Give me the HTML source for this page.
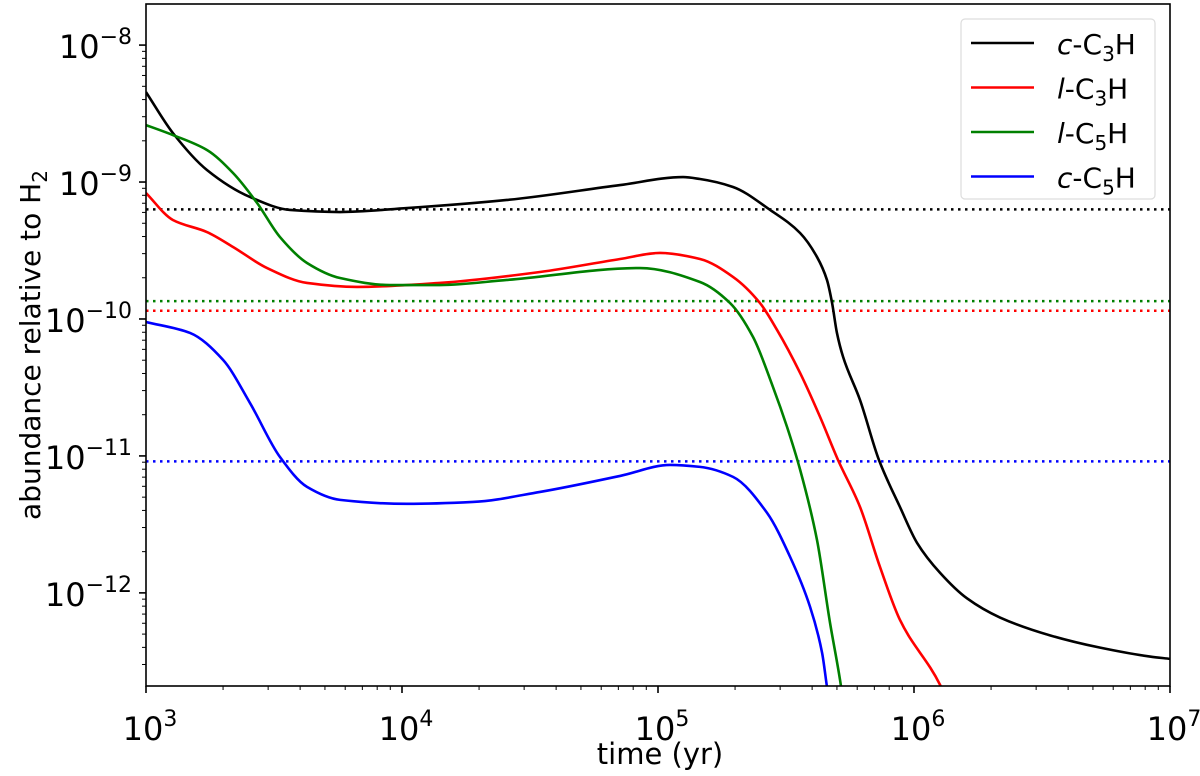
<!DOCTYPE html>
<html><head><meta charset="utf-8"><style>
html,body{margin:0;padding:0;background:#fff;}
svg{display:block;font-family:"DejaVu Sans","Liberation Sans",sans-serif;}
</style></head><body>
<svg id="chart" width="1200" height="776"></svg>
<script>
const seriesNames=["c-C3H","l-C3H","l-C5H","c-C5H"];
const seriesColors=["#000000","#ff0000","#008000","#0000ff"];
const cC3H_t=[3,3.105,3.238,3.406,3.563,3.758,4.020,4.410,4.852,5.098,5.164,5.293,5.438,5.555,5.621,5.660,5.680,5.699,5.723,5.789,5.863,5.945,6.012,6.102,6.207,6.336,6.531,6.727,6.922,7];
const cC3H_y=[-8.343,-8.642,-8.912,-9.109,-9.204,-9.219,-9.190,-9.131,-9.022,-8.964,-8.978,-9.036,-9.204,-9.372,-9.547,-9.715,-9.883,-10.102,-10.277,-10.591,-11.029,-11.372,-11.635,-11.854,-12.04,-12.18,-12.31,-12.40,-12.465,-12.482];
const lC3H_t=[3,3.105,3.238,3.340,3.473,3.629,3.824,4.148,4.539,4.852,5.008,5.164,5.293,5.398,5.465,5.555,5.633,5.703,5.789,5.867,5.945,6.102,6.12];
const lC3H_y=[-9.080,-9.277,-9.365,-9.474,-9.628,-9.737,-9.766,-9.737,-9.657,-9.562,-9.518,-9.562,-9.693,-9.883,-10.080,-10.394,-10.715,-11.029,-11.372,-11.810,-12.197,-12.672,-12.75];
const lC5H_t=[3,3.105,3.238,3.340,3.434,3.523,3.629,3.758,3.953,4.148,4.410,4.930,5.164,5.281,5.371,5.449,5.504,5.555,5.621,5.672,5.711,5.72];
const lC5H_y=[-8.584,-8.657,-8.766,-8.934,-9.153,-9.401,-9.591,-9.701,-9.752,-9.752,-9.715,-9.628,-9.730,-9.883,-10.131,-10.496,-10.788,-11.10,-11.613,-12.219,-12.635,-12.75];
const cC5H_t=[3,3.172,3.301,3.406,3.523,3.629,3.758,4.020,4.277,4.539,4.852,5.047,5.164,5.293,5.426,5.516,5.594,5.641,5.660,5.665];
const cC5H_y=[-10.022,-10.102,-10.299,-10.613,-11.007,-11.226,-11.321,-11.350,-11.336,-11.263,-11.146,-11.066,-11.080,-11.153,-11.416,-11.737,-12.102,-12.438,-12.686,-12.75];
const refLevels=[-9.20,-9.94,-9.87,-11.04];
const xTickExp=[3,4,5,6,7];
const yTickExp=[-8,-9,-10,-11,-12];

const L=146,R=1170,T=4,B=686;
const xMin=3,xMax=7,yMin=-12.68,yMax=-7.70;
const xs=v=>L+(v-xMin)/(xMax-xMin)*(R-L);
const ys=v=>B-(v-yMin)/(yMax-yMin)*(B-T);
const svg=document.getElementById('chart');
const NS="http://www.w3.org/2000/svg";
function mk(tag,attrs,parent){const e=document.createElementNS(NS,tag);for(const k in attrs)e.setAttribute(k,attrs[k]);(parent||svg).appendChild(e);return e;}

const defs=mk('defs',{});
const cp=mk('clipPath',{id:'clip'},defs);
mk('rect',{x:L,y:T,width:R-L,height:B-T},cp);

refLevels.forEach((v,i)=>{
 const l=mk('line',{x1:L,x2:R,y1:ys(v),y2:ys(v),stroke:seriesColors[i],'stroke-width':2.5,'stroke-dasharray':'2.5,4.5'});
 
 
});

const allT=[cC3H_t,lC3H_t,lC5H_t,cC5H_t], allY=[cC3H_y,lC3H_y,lC5H_y,cC5H_y];
function monoPath(px,py){
 const n=px.length, h=[], d=[], m=new Array(n);
 for(let i=0;i<n-1;i++){h[i]=px[i+1]-px[i];d[i]=(py[i+1]-py[i])/h[i];}
 m[0]=d[0]; m[n-1]=d[n-2];
 for(let i=1;i<n-1;i++){
  if(d[i-1]*d[i]<=0)m[i]=0;
  else{const w1=2*h[i]+h[i-1],w2=h[i]+2*h[i-1];m[i]=(w1+w2)/(w1/d[i-1]+w2/d[i]);}
 }
 let p='M'+px[0]+','+py[0];
 for(let i=0;i<n-1;i++){
  p+=' C'+(px[i]+h[i]/3)+','+(py[i]+m[i]*h[i]/3)+' '+(px[i+1]-h[i]/3)+','+(py[i+1]-m[i+1]*h[i]/3)+' '+px[i+1]+','+py[i+1];
 }
 return p;
}
allT.forEach((t,i)=>{
 const p=mk('path',{d:monoPath(t.map(xs),allY[i].map(ys)),fill:'none',stroke:seriesColors[i],'stroke-width':2.6,'stroke-linejoin':'round','clip-path':'url(#clip)'});
 
 
});

const fr=mk('rect',{x:L,y:T,width:R-L,height:B-T,fill:'none',stroke:'#000','stroke-width':1.6});



xTickExp.forEach(e=>{
 const x=xs(e);
 mk('line',{x1:x,x2:x,y1:B,y2:B+7,stroke:'#000','stroke-width':1.6});
 if(e<xMax)for(let m=2;m<10;m++){const xm=xs(e+Math.log10(m));mk('line',{x1:xm,x2:xm,y1:B,y2:B+4,stroke:'#000','stroke-width':1});}
 const tx=mk('text',{x:x+4,y:740,'text-anchor':'middle','font-size':32});
 tx.innerHTML='10<tspan dy="-14" font-size="22">'+e+'</tspan>';
 
 
});
yTickExp.forEach(e=>{
 const y=ys(e);
 mk('line',{x1:L-7,x2:L,y1:y,y2:y,stroke:'#000','stroke-width':1.6});
 const tx=mk('text',{x:L-14,y:y+13,'text-anchor':'end','font-size':32});
 tx.innerHTML='10<tspan dy="-14" font-size="22">\u2212'+(-e)+'</tspan>';
 
 
});
for(let e=-13;e<=-8;e++)for(let m=2;m<10;m++){const v=e+Math.log10(m);if(v>yMin&&v<yMax){const y=ys(v);mk('line',{x1:L-4,x2:L,y1:y,y2:y,stroke:'#000','stroke-width':1});}}

const xl=mk('text',{x:660,y:764,'text-anchor':'middle','font-size':29});
xl.textContent='time (yr)';


const yl=mk('text',{x:0,y:0,'text-anchor':'middle','font-size':28,transform:'translate(40,345) rotate(-90)'});
yl.innerHTML='abundance relative to H<tspan dy="7" font-size="20">2</tspan>';



const lg=mk('g',{});


mk('rect',{x:961,y:19,width:194,height:180,rx:4,fill:'#fff',stroke:'#ddd','stroke-width':1.2},lg);
const labels=[['c','3'],['l','3'],['l','5'],['c','5']];
labels.forEach((lb,i)=>{
 const y=43+i*44.5;
 const g=mk('g',{},lg);
 
 
 mk('line',{x1:971,x2:1034,y1:y,y2:y,stroke:seriesColors[i],'stroke-width':2.6},g);
 const t=mk('text',{x:1057,y:y+11,'font-size':28},g);
 t.innerHTML='<tspan font-style="italic">'+lb[0]+'</tspan>-C<tspan dy="7" font-size="20">'+lb[1]+'</tspan><tspan dy="-7">H</tspan>';
});
</script>
</body></html>
